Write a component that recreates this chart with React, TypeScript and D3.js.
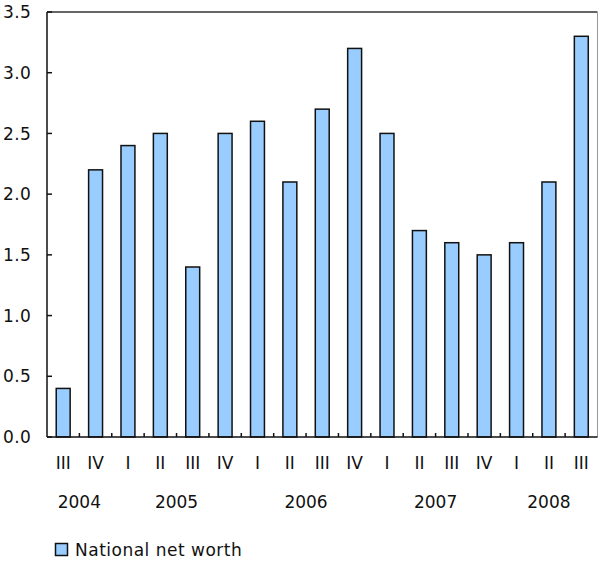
import React from "react";
import * as d3 from "d3";

const quarters = ["III", "IV", "I", "II", "III", "IV", "I", "II", "III", "IV", "I", "II", "III", "IV", "I", "II", "III"];
const years = ["2004", "2004", "2005", "2005", "2005", "2005", "2006", "2006", "2006", "2006", "2007", "2007", "2007", "2007", "2008", "2008", "2008"];
const values = [0.4, 2.2, 2.4, 2.5, 1.4, 2.5, 2.6, 2.1, 2.7, 3.2, 2.5, 1.7, 1.6, 1.5, 1.6, 2.1, 3.3];
const yTicks = [0, 0.5, 1.0, 1.5, 2.0, 2.5, 3.0, 3.5];
const seriesName = "National net worth";

const W = 598, H = 562;
const left = 47, right = 597.5, top = 12, bottom = 437;
const font = "'DejaVu Sans', Verdana, sans-serif";

export default function App() {
  const idx = quarters.map((_, i) => i);
  const x = d3.scaleBand<number>().domain(idx).range([left, right]).padding(0);
  const y = d3.scaleLinear().domain([0, 3.5]).range([bottom, top]);
  const bw = x.bandwidth() * 0.43;

  const yearGroups: { year: string; first: number; last: number }[] = [];
  years.forEach((yr, i) => {
    const g = yearGroups[yearGroups.length - 1];
    if (g && g.year === yr) g.last = i;
    else yearGroups.push({ year: yr, first: i, last: i });
  });

  return (
    <svg width={W} height={H} style={{ position: "absolute", left: 0, top: 0, background: "#fff" }} fontFamily={font}>
      <line x1={left} x2={right} y1={top} y2={top} stroke="#333" strokeWidth={1.5} />
      <line x1={right} x2={right} y1={top} y2={bottom} stroke="#999" strokeWidth={1} />
      {values.map((v, i) => (
        <rect
          key={i}
          x={(x(i) as number) + (x.bandwidth() - bw) / 2}
          y={y(v)}
          width={bw}
          height={y(0) - y(v)}
          fill="#99CCFF"
          stroke="#111"
          strokeWidth={1.5}
        />
      ))}
      <line x1={left} x2={left} y1={top} y2={bottom} stroke="#111" strokeWidth={1.5} />
      <line x1={left} x2={right} y1={bottom} y2={bottom} stroke="#111" strokeWidth={1.5} />
      {yTicks.map((t) => (
        <g key={t}>
          <line x1={left} x2={left + 5} y1={y(t)} y2={y(t)} stroke="#111" strokeWidth={1.5} />
          <text x={31} y={y(t)} dy="0.36em" textAnchor="end" fontSize={17} fill="#111" letterSpacing={0.3}>
            {t.toFixed(1)}
          </text>
        </g>
      ))}
      {idx.slice(1).map((i) => (
        <line key={i} x1={x(i)} x2={x(i)} y1={bottom} y2={bottom - 4} stroke="#111" strokeWidth={1.5} />
      ))}
      {quarters.map((q, i) => (
        <text key={i} x={(x(i) as number) + x.bandwidth() / 2} y={469} textAnchor="middle" fontSize={17} fill="#111">
          {q}
        </text>
      ))}
      {yearGroups.map((g) => (
        <text
          key={g.year}
          x={((x(g.first) as number) + (x(g.last) as number) + x.bandwidth()) / 2}
          y={508}
          textAnchor="middle"
          fontSize={17}
          fill="#111"
        >
          {g.year}
        </text>
      ))}
      <rect x={55.5} y={543.5} width={12} height={12} fill="#99CCFF" stroke="#111" strokeWidth={1.5} />
      <text x={75} y={556} fontSize={17} fill="#111" letterSpacing={0.5}>
        {seriesName}
      </text>
    </svg>
  );
}
